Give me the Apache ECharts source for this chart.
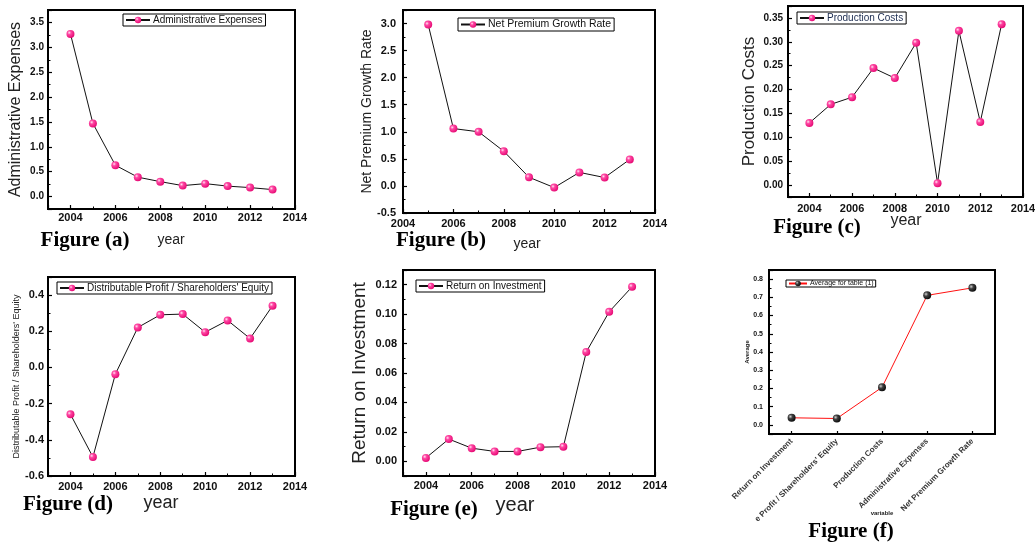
<!DOCTYPE html>
<html><head><meta charset="utf-8">
<script src="https://cdn.jsdelivr.net/npm/echarts@6/dist/echarts.min.js"></script>
<style>html,body{margin:0;padding:0;background:#fff}#c{width:1035px;height:549px}</style>
</head><body><div id="c"></div>
<script>
// ---------- data ----------
const years = [2004, 2005, 2006, 2007, 2008, 2009, 2010, 2011, 2012, 2013];
const adminExpenses = [3.27, 1.47, 0.63, 0.39, 0.30, 0.22, 0.26, 0.21, 0.18, 0.14];
const premiumYears = [2005, 2006, 2007, 2008, 2009, 2010, 2011, 2012, 2013];
const netPremiumGrowth = [2.98, 1.06, 1.00, 0.64, 0.16, -0.03, 0.25, 0.155, 0.49];
const productionCosts = [0.130, 0.169, 0.184, 0.245, 0.224, 0.298, 0.004, 0.323, 0.132, 0.337];
const distProfitEquity = [-0.259, -0.495, -0.037, 0.221, 0.291, 0.295, 0.195, 0.260, 0.160, 0.341];
const returnOnInvestment = [0.0023, 0.0151, 0.0089, 0.0067, 0.0067, 0.0096, 0.0099, 0.0743, 0.1016, 0.1186];
const variables = ['Return on Investment', "Distributable Profit / Shareholders' Equity", 'Production Costs', 'Administrative Expenses', 'Net Premium Growth Rate'];
const variableTickLabels = ['Return on Investment', "e Profit / Shareholders' Equity", 'Production Costs', 'Administrative Expenses', 'Net Premium Growth Rate'];
const averages = [0.039, 0.035, 0.206, 0.711, 0.752];
const seriesNames = ['Administrative Expenses', 'Net Premium Growth Rate', 'Production Costs', "Distributable Profit / Shareholders' Equity", 'Return on Investment', 'Average for table (1)'];
const yAxisNames = ['Administrative Expenses', 'Net Premium Growth Rate', 'Production Costs', "Distributable Profit / Shareholders' Equity", 'Return on Investment', 'Average'];
const xAxisName = 'variable';
const figureLabels = ['Figure (a)', 'Figure (b)', 'Figure (c)', 'Figure (d)', 'Figure (e)', 'Figure (f)'];
const yearLabel = 'year';

const pairs = (xs, ys) => xs.map((x, i) => [x, ys[i]]);
const panelData = [
  pairs(years, adminExpenses),
  pairs(premiumYears, netPremiumGrowth),
  pairs(years, productionCosts),
  pairs(years, distProfitEquity),
  pairs(years, returnOnInvestment),
  averages
];

// ---------- layout / style ----------
const SANS = '"Liberation Sans", Arial, sans-serif';
const SERIF = '"Liberation Serif", "Times New Roman", serif';
const L = [
  {g:[48,10,247,199], x:[2003,2014,null], y:[-0.25,3.75,8,null], dec:1, yFs:10, yMar:4, xMar:3, nFs:16, nGap:24, leg:[123,14], legFs:10},
  {g:[403,10,252,203], x:[2004,2014,2], y:[-0.5,3.25,null,0.5], dec:1, yFs:11, yMar:7, xMar:5, nFs:14, nGap:29, leg:[458,18], legFs:10.5},
  {g:[788,6,235,191], x:[2003,2014,null], y:[-0.025,0.375,8,null], dec:2, yFs:10, yMar:5, xMar:6, nFs:17, nGap:30, leg:[797,12], legFs:10},
  {g:[48,277,247,199], x:[2003,2014,null], y:[-0.6,0.5,null,0.2], dec:1, yFs:11, yMar:4, xMar:5, nFs:9, nGap:27, leg:[57,282], legFs:10},
  {g:[403,270,252,206], x:[2003,2014,null], y:[-0.01,0.13,7,null], dec:2, yFs:11, yMar:6, xMar:4, nFs:19, nGap:34, leg:[416,280], legFs:10},
  {g:[769,270,226,164], cat:true, y:[-0.05,0.85,9,null], dec:1, yFs:7, yMar:6, xMar:6, nFs:6, nGap:19, leg:[786,280], legFs:7}
];
const titlePos = [[85,241],[441,241],[817,228],[68,505],[434,510],[851,532]];
const yearPos = [[171,240,14],[527,244,14],[906,221,16],[161,503,18],[515,505,20]];

const pinkBall = {type:'radial', x:0.35, y:0.35, r:0.75, colorStops:[{offset:0,color:'#ffe6f2'},{offset:0.3,color:'#ff48a4'},{offset:1,color:'#e2006c'}]};
const blackBall = {type:'radial', x:0.35, y:0.35, r:0.75, colorStops:[{offset:0,color:'#d0d0d0'},{offset:0.35,color:'#404040'},{offset:1,color:'#000'}]};

const grids = [], xAxes = [], yAxes = [], series = [], legends = [], graphics = [];
L.forEach((p, i) => {
  grids.push({left:p.g[0], top:p.g[1], width:p.g[2], height:p.g[3], show:true, borderColor:'#000', borderWidth:2, backgroundColor:'transparent', containLabel:false, outerBoundsMode:'none'});
  const tickCommon = {
    axisLine:{show:true, onZero:false, lineStyle:{color:'#000', width:2}},
    axisTick:{show:true, inside:true, length:4, lineStyle:{color:'#000', width:1.2}},
    splitLine:{show:false}
  };
  if (p.cat) {
    xAxes.push(Object.assign({type:'category', gridIndex:i, data:variables, boundaryGap:true,
      name:xAxisName, nameLocation:'middle', nameGap:76, nameMoveOverlap:false,
      nameTextStyle:{fontSize:6, fontWeight:'bold', fontFamily:SANS, color:'#222'},
      axisLabel:{rotate:45, margin:p.xMar, fontSize:8, fontWeight:'bold', fontFamily:SANS, color:'#333', formatter:(v, idx) => variableTickLabels[idx]}
    }, tickCommon, {axisTick:{show:true, inside:true, alignWithLabel:true, length:3, lineStyle:{color:'#000', width:1.2}}}));
  } else {
    const xa = Object.assign({type:'value', gridIndex:i, min:p.x[0], max:p.x[1],
      axisLabel:{fontSize:11, fontWeight:'bold', fontFamily:SANS, color:'#111', margin:p.xMar, showMinLabel:p.x[2] !== null, showMaxLabel:true, formatter:v => String(v)},
      minorTick:{show:true, splitNumber:2, length:2.5, lineStyle:{color:'#000', width:1}}
    }, tickCommon);
    if (p.x[2] !== null) xa.interval = p.x[2]; else xa.splitNumber = 5;
    xAxes.push(xa);
  }
  const ya = Object.assign({type:'value', gridIndex:i, min:p.y[0], max:p.y[1],
    name:yAxisNames[i], nameLocation:'middle', nameGap:p.nGap, nameMoveOverlap:false,
    nameTextStyle:{fontSize:p.nFs, fontFamily:SANS, color:'#222', fontWeight:(i===5?'bold':'normal')},
    axisLabel:{fontSize:p.yFs, fontWeight:'bold', fontFamily:SANS, color:'#111', margin:p.yMar,
      showMinLabel:p.y[3] !== null, showMaxLabel:false, formatter:v => v.toFixed(p.dec)},
    minorTick:{show:true, splitNumber:2, length:2.5, lineStyle:{color:'#000', width:1}}
  }, tickCommon);
  if (p.y[3] !== null) ya.interval = p.y[3]; else ya.splitNumber = p.y[2];
  yAxes.push(ya);

  const isF = i === 5;
  series.push({type:'line', name:seriesNames[i], xAxisIndex:i, yAxisIndex:i, data:panelData[i],
    symbol:'circle', symbolSize:8, showSymbol:true,
    itemStyle:{color:isF ? blackBall : pinkBall, borderWidth:0},
    lineStyle:{color:isF ? '#ff1010' : '#111', width:1},
    emphasis:{disabled:true}, silent:true, animation:false, z:3});

  legends.push({data:[seriesNames[i]], left:p.leg[0], top:p.leg[1], orient:'horizontal',
    padding:isF ? [0,2,0,2] : [1,3,1,2], itemWidth:isF ? 18 : 24, itemHeight:isF ? 7 : 8, itemGap:0,
    borderColor:'#000', borderWidth:1, backgroundColor:'#fff', selectedMode:false,
    textStyle:{fontSize:p.legFs, fontFamily:SANS, color:i===2 ? '#1c2c50' : '#111', padding:[0,0,0,-2]}});
});

figureLabels.forEach((t, i) => {
  graphics.push({type:'text', x:titlePos[i][0], y:titlePos[i][1], silent:true,
    style:{text:t, fontSize:21, fontWeight:'bold', fontFamily:SERIF, fill:'#000', align:'center', verticalAlign:'middle'}});
});
yearPos.forEach(p => {
  graphics.push({type:'text', x:p[0], y:p[1], silent:true,
    style:{text:yearLabel, fontSize:p[2], fontFamily:SANS, fill:'#222', align:'center', verticalAlign:'middle'}});
});

const chart = echarts.init(document.getElementById('c'), null, {renderer:'canvas'});
chart.setOption({
  animation:false,
  backgroundColor:'#fff',
  grid:grids, xAxis:xAxes, yAxis:yAxes, series:series, legend:legends, graphic:graphics,
  tooltip:{show:false}
});
</script></body></html>
